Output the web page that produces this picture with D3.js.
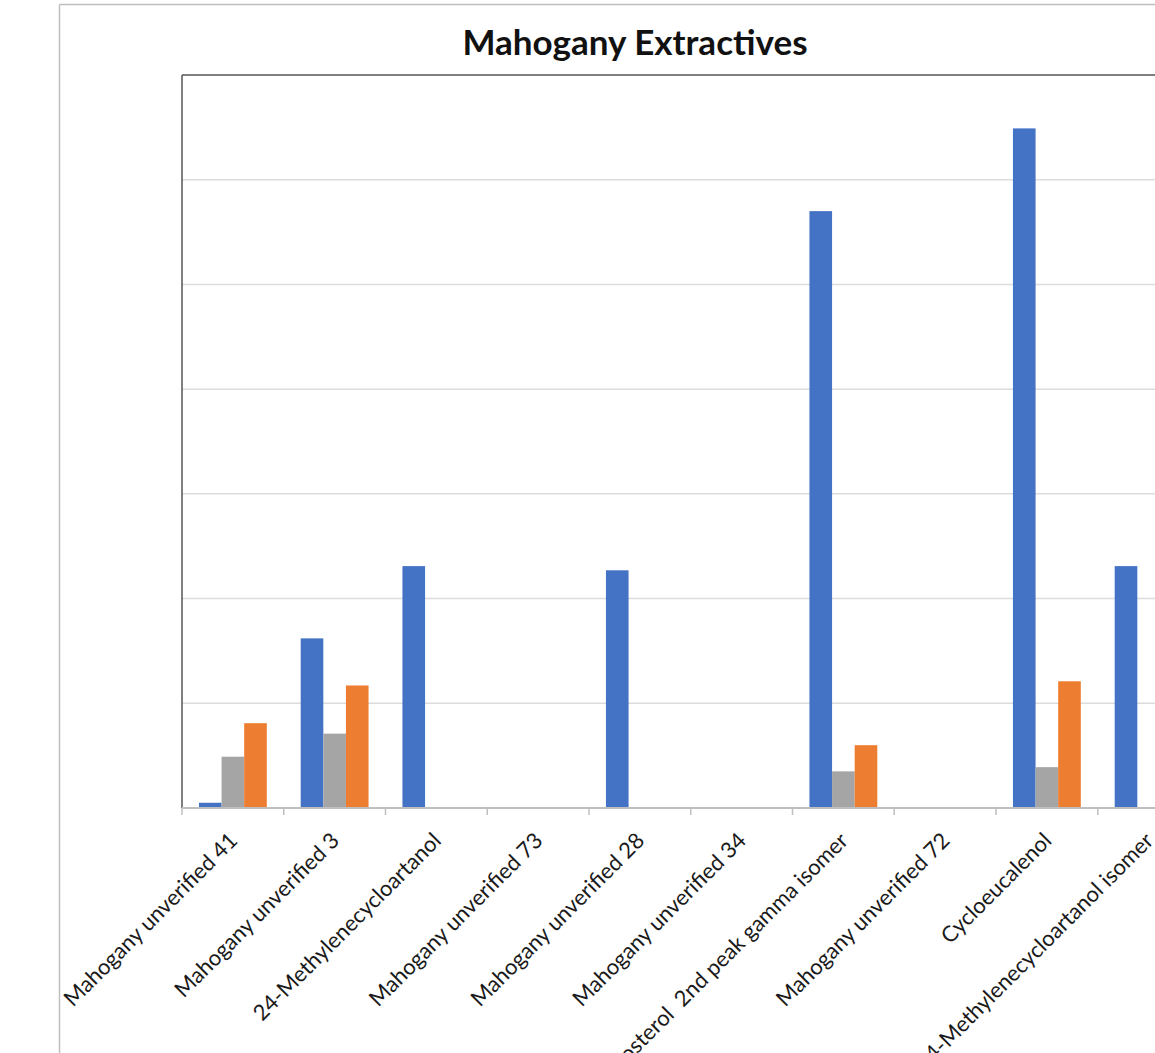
<!DOCTYPE html>
<html>
<head>
<meta charset="utf-8">
<script src="https://cdn.jsdelivr.net/npm/d3@7"></script>
<style>
  html, body { margin: 0; padding: 0; background: #fff; overflow: hidden; }
  svg { display: block; }
</style>
</head>
<body>
<svg id="chart" width="1155" height="1053"></svg>
<script>
// Compounds on the category axis, in plotting order
const categories = [
  "Mahogany unverified 41",
  "Mahogany unverified 3",
  "24-Methylenecycloartanol",
  "Mahogany unverified 73",
  "Mahogany unverified 28",
  "Mahogany unverified 34",
  "Sitosterol  2nd peak gamma isomer",
  "Mahogany unverified 72",
  "Cycloeucalenol",
  "24-Methylenecycloartanol isomer"
];

// Three extract series (blue, gray, orange)
const seriesNames = ["Sample 1", "Sample 2", "Sample 3"];
const sample1 = [0.05, 1.62, 2.31, 0, 2.27, 0, 5.70, 0, 6.49, 2.31];
const sample2 = [0.49, 0.71, 0, 0, 0, 0, 0.35, 0, 0.39, 0];
const sample3 = [0.81, 1.17, 0, 0, 0, 0, 0.60, 0, 1.21, 0];
const seriesColors = ["#4472C4", "#A5A5A5", "#ED7D31"];

// Value axis: gridlines at each unit, plot top at 7
const yMax = 7;
const yTicks = [1, 2, 3, 4, 5, 6];

const title = "Mahogany Extractives";

const svg = d3.select("#chart");
const W = 1155, H = 1053;

const plot = { left: 182, top: 75, bottom: 808, catWidth: 101.75 };
plot.right = plot.left + plot.catWidth * categories.length;

svg.append("rect").attr("width", W).attr("height", H).attr("fill", "#fff");

// Chart area outline (continues beyond the visible frame)
svg.append("line").attr("x1", 59.5).attr("x2", 59.5).attr("y1", 4.5).attr("y2", H + 10)
  .attr("stroke", "#bfbfbf").attr("stroke-width", 1.5);
svg.append("line").attr("x1", 59.5).attr("x2", W + 100).attr("y1", 4.5).attr("y2", 4.5)
  .attr("stroke", "#bfbfbf").attr("stroke-width", 1.5);

// Title
svg.append("text")
  .attr("x", 635).attr("y", 55)
  .attr("text-anchor", "middle")
  .attr("font-family", "Lato, 'Open Sans', sans-serif")
  .attr("font-weight", "bold")
  .attr("font-size", 35)
  .attr("fill", "#111")
  .text(title);

const x0 = d3.scaleBand().domain(categories).range([plot.left, plot.right]).padding(0);
const gapHalf = 16.95;
const x1 = d3.scaleBand().domain(seriesNames).range([gapHalf, plot.catWidth - gapHalf]).padding(0);
const y = d3.scaleLinear().domain([0, yMax]).range([plot.bottom, plot.top]);

// Horizontal gridlines
svg.append("g")
  .selectAll("line")
  .data(yTicks)
  .join("line")
  .attr("x1", plot.left).attr("x2", plot.right)
  .attr("y1", d => y(d)).attr("y2", d => y(d))
  .attr("stroke", "#dcdcdc").attr("stroke-width", 1.5);

// Bars
const rows = categories.map((c, i) => ({
  cat: c,
  vals: [sample1[i], sample2[i], sample3[i]]
}));

const groups = svg.append("g")
  .selectAll("g")
  .data(rows)
  .join("g")
  .attr("transform", d => `translate(${x0(d.cat)},0)`);

groups.selectAll("rect")
  .data(d => d.vals.map((v, k) => ({ name: seriesNames[k], v, k })))
  .join("rect")
  .attr("x", d => x1(d.name))
  .attr("width", x1.bandwidth())
  .attr("y", d => y(d.v))
  .attr("height", d => y(0) - y(d.v))
  .attr("fill", d => seriesColors[d.k]);

// Plot area frame (top and left)
svg.append("line").attr("x1", plot.left).attr("x2", W + 100).attr("y1", plot.top).attr("y2", plot.top)
  .attr("stroke", "#555").attr("stroke-width", 1.5);
svg.append("line").attr("x1", plot.left).attr("x2", plot.left).attr("y1", plot.top).attr("y2", plot.bottom)
  .attr("stroke", "#555").attr("stroke-width", 1.5);

// Category axis: baseline, ticks between categories, rotated labels
const xAxisG = svg.append("g");
xAxisG.append("line")
  .attr("x1", plot.left).attr("x2", plot.right)
  .attr("y1", plot.bottom).attr("y2", plot.bottom)
  .attr("stroke", "#bfbfbf").attr("stroke-width", 2);

const boundaries = d3.range(categories.length + 1);
xAxisG.selectAll("line.tick")
  .data(boundaries)
  .join("line")
  .attr("class", "tick")
  .attr("x1", i => plot.left + i * x0.bandwidth())
  .attr("x2", i => plot.left + i * x0.bandwidth())
  .attr("y1", plot.bottom).attr("y2", plot.bottom + 7)
  .attr("stroke", "#bfbfbf").attr("stroke-width", 1.5);

xAxisG.selectAll("text")
  .data(categories)
  .join("text")
  .attr("transform", d => `translate(${x0(d) + x0.bandwidth() / 2 + 6},842) rotate(-45)`)
  .attr("text-anchor", "end")
  .attr("font-family", "Lato, 'Open Sans', sans-serif")
  .attr("font-size", 22)
  .attr("fill", "#1a1a1a")
  .style("white-space", "pre")
  .text(d => d);
</script>
</body>
</html>
